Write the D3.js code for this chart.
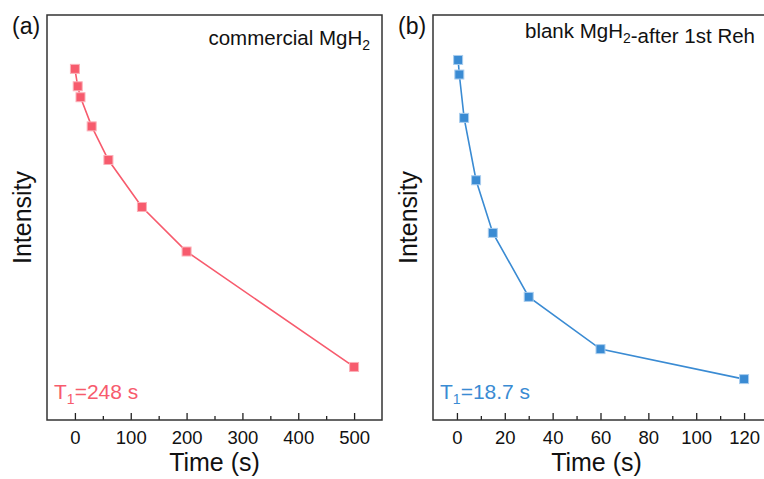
<!DOCTYPE html>
<html>
<head>
<meta charset="utf-8">
<script src="https://cdn.jsdelivr.net/npm/d3@7"></script>
<style>
  html, body { margin: 0; padding: 0; background: #fff; }
  svg { display: block; font-family: "Liberation Sans", Arial, sans-serif; }
</style>
</head>
<body>
<div id="chart"></div>
<script>
// panel (a) - commercial MgH2
const timeA = [0, 5, 10, 30, 60, 120, 200, 500];
const intensityA = [86.7, 82.4, 79.7, 72.5, 64.2, 52.6, 41.6, 13.1];
const ticksA = [0, 100, 200, 300, 400, 500];
const minorA = [50, 150, 250, 350, 450];

// panel (b) - blank MgH2 after 1st rehydrogenation
const timeB = [0.5, 1, 3, 8, 15, 30, 60, 120];
const intensityB = [88.9, 85.3, 74.6, 59.2, 46.2, 30.4, 17.5, 10.1];
const ticksB = [0, 20, 40, 60, 80, 100, 120];
const minorB = [10, 30, 50, 70, 90, 110];

const W = 764, H = 479;
const svg = d3.select("#chart").append("svg")
    .attr("width", W)
    .attr("height", H);

function drawPanel(opt) {
    const x = d3.scaleLinear().domain(opt.xDomain).range([opt.left, opt.right]);
    const y = d3.scaleLinear().domain([0, 100]).range([opt.bottom, opt.top]);
    const g = svg.append("g");

    // minor ticks (inside)
    g.append("g")
        .attr("transform", `translate(0,${opt.bottom})`)
        .call(d3.axisBottom(x).tickValues(opt.minor).tickSize(-4).tickFormat(""))
        .call(a => a.select(".domain").remove())
        .selectAll("line").attr("stroke", "#222").attr("stroke-width", 1.3);

    // major ticks + labels
    g.append("g")
        .attr("transform", `translate(0,${opt.bottom})`)
        .call(d3.axisBottom(x).tickValues(opt.ticks).tickSize(-7).tickPadding(11))
        .call(a => a.select(".domain").remove())
        .call(a => a.selectAll("line").attr("stroke", "#222").attr("stroke-width", 1.3))
        .call(a => a.selectAll("text")
            .attr("fill", "#111")
            .style("font-size", "18.5px")
            .style("font-family", "'Liberation Sans', Arial, sans-serif"));

    // frame
    g.append("rect")
        .attr("x", opt.left).attr("y", opt.top)
        .attr("width", opt.right - opt.left)
        .attr("height", opt.bottom - opt.top)
        .attr("fill", "none")
        .attr("stroke", "#333")
        .attr("stroke-width", 1.5);

    const pts = opt.xs.map((v, i) => ({ t: v, v: opt.ys[i] }));

    g.append("path")
        .datum(pts)
        .attr("fill", "none")
        .attr("stroke", opt.color)
        .attr("stroke-width", 1.6)
        .attr("d", d3.line().x(d => x(d.t)).y(d => y(d.v)));

    g.selectAll("rect.pt")
        .data(pts)
        .join("rect")
        .attr("class", "pt")
        .attr("x", d => x(d.t) - 4.5)
        .attr("y", d => y(d.v) - 4.5)
        .attr("width", 9)
        .attr("height", 9)
        .attr("fill", opt.color)
        .attr("stroke", opt.light)
        .attr("stroke-width", 1);

    // axis titles
    g.append("text")
        .attr("x", (opt.left + Math.min(opt.right, W)) / 2 + opt.titleShift)
        .attr("y", 471)
        .attr("text-anchor", "middle")
        .style("font-size", "25px")
        .attr("fill", "#111")
        .text("Time (s)");

    g.append("text")
        .attr("transform", `translate(${opt.left - 16},${(opt.top + opt.bottom) / 2}) rotate(-90)`)
        .attr("text-anchor", "middle")
        .style("font-size", "25px")
        .attr("fill", "#111")
        .text("Intensity");

    // panel letter
    g.append("text")
        .attr("x", opt.left - 35)
        .attr("y", 34)
        .style("font-size", "23px")
        .attr("fill", "#111")
        .text(opt.letter);

    // sample title with subscript
    const t = g.append("text")
        .attr("x", opt.titleX)
        .attr("y", opt.titleY)
        .attr("text-anchor", opt.titleAnchor)
        .style("font-size", "20.5px")
        .attr("fill", "#111");
    opt.title.forEach(p => {
        if (p.sub) {
            t.append("tspan").attr("dy", 5).style("font-size", "14px").text(p.sub);
            t.append("tspan").attr("dy", -5).text("");
        } else {
            t.append("tspan").text(p.s);
        }
    });

    // T1 annotation
    const a = g.append("text")
        .attr("x", opt.left + 7)
        .attr("y", 399)
        .style("font-size", "21px")
        .attr("fill", opt.color);
    a.append("tspan").text("T");
    a.append("tspan").attr("dy", 5).style("font-size", "14px").text("1");
    a.append("tspan").attr("dy", -5).text(opt.t1);
}

drawPanel({
    left: 47, right: 382, top: 15, bottom: 420,
    xDomain: [-50, 550],
    xs: timeA, ys: intensityA, ticks: ticksA, minor: minorA,
    color: "#f75b6d", light: "#fbb0b8",
    letter: "(a)", titleShift: 0,
    title: [{ s: "commercial MgH" }, { sub: "2" }],
    titleX: 370, titleY: 45, titleAnchor: "end",
    t1: "=248 s"
});

drawPanel({
    left: 433, right: 768, top: 15, bottom: 420,
    xDomain: [-10, 130],
    xs: timeB, ys: intensityB, ticks: ticksB, minor: minorB,
    color: "#3a8bd3", light: "#a9cdee",
    letter: "(b)", titleShift: -2,
    title: [{ s: "blank MgH" }, { sub: "2" }, { s: "-after 1st Reh" }],
    titleX: 525, titleY: 38, titleAnchor: "start",
    t1: "=18.7 s"
});
</script>
</body>
</html>
